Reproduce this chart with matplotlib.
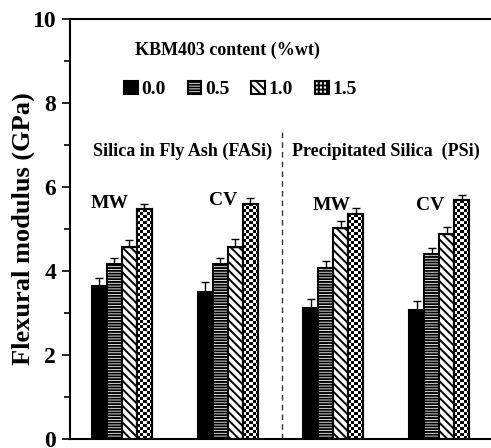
import matplotlib.pyplot as plt
import numpy as np

# Data
groups = ['MW', 'CV', 'MW', 'CV']
contents = ['0.0', '0.5', '1.0', '1.5']
modulus = {
    '0.0': [3.64, 3.50, 3.12, 3.07],
    '0.5': [4.17, 4.17, 4.08, 4.40],
    '1.0': [4.57, 4.58, 5.02, 4.87],
    '1.5': [5.47, 5.60, 5.35, 5.68],
}
errors = {
    '0.0': [0.20, 0.24, 0.21, 0.22],
    '0.5': [0.14, 0.15, 0.15, 0.16],
    '1.0': [0.17, 0.18, 0.18, 0.18],
    '1.5': [0.13, 0.14, 0.14, 0.14],
}
hatches = {'0.0': None, '0.5': '------', '1.0': '\\\\\\\\', '1.5': '++++'}

plt.rcParams['font.family'] = 'Liberation Serif'
plt.rcParams['font.weight'] = 'bold'
plt.rcParams['hatch.linewidth'] = 1.4

fig = plt.figure(figsize=(4.91, 4.48), dpi=100)
ax = fig.add_axes([0.1426, 0.02, 0.8574, 0.9375])

x = np.arange(len(groups))
w = 0.142
handles = []
for i, c in enumerate(contents):
    pos = x + (i - 1.5) * w
    vals = modulus[c]
    err = [np.zeros(len(vals)), errors[c]]
    bars = ax.bar(pos, vals, w, color='black' if c == '0.0' else 'white',
                  edgecolor='black', linewidth=1.5, hatch=hatches[c],
                  yerr=err, error_kw=dict(ecolor='black', elinewidth=1, capsize=3, capthick=1),
                  label=c, zorder=2)
    handles.append(bars)
    if c == '1.5':
        # checkerboard texture
        for b in bars:
            bx, by, bw, bh = b.get_x(), b.get_y(), b.get_width(), b.get_height()
            ncol = 5
            nrow = int(round(bh * 42 / 3.0))
            chk = (np.add.outer(np.arange(nrow), np.arange(ncol)) % 2).astype(float)
            im = ax.imshow(chk, cmap='gray', extent=[bx, bx + bw, by, by + bh],
                           aspect='auto', interpolation='nearest', zorder=2.5)
            im.set_clip_path(b)
            ax.bar(bx + bw / 2, bh, bw, color='none', edgecolor='black', linewidth=1.5, zorder=3)

ax.set_xlim(-0.49, 3.49)
ax.set_ylim(0, 10)
ax.set_yticks(np.arange(0, 11, 2))
ax.set_yticks(np.arange(1, 10, 2), minor=True)
ax.tick_params(axis='y', which='major', labelsize=17, length=6, width=1.2, direction='out', pad=4)
ax.tick_params(axis='y', which='minor', length=4, width=1.2, direction='out')
ax.set_xticks([])
ax.spines['right'].set_visible(False)
for s in ['left', 'top', 'bottom']:
    ax.spines[s].set_linewidth(1.5)
for lbl in ax.get_yticklabels():
    lbl.set_fontweight('bold')

ax.set_ylabel('Flexural modulus (GPa)', fontsize=19, fontweight='bold')
ax.yaxis.set_label_coords(-0.083, 0.5)

# divider between silica types
ax.plot([1.51, 1.51], [0, 7.35], color='#333333', linestyle=(0, (4, 3)), linewidth=1, zorder=1)

ax.text(1.0, 9.25, 'KBM403 content (%wt)', fontsize=13, fontweight='bold', ha='center', va='center')
ax.text(0.57, 6.85, 'Silica in Fly Ash (FASi)', fontsize=13, fontweight='bold', ha='center', va='center')
ax.text(2.5, 6.85, 'Precipitated Silica  (PSi)', fontsize=13, fontweight='bold', ha='center', va='center')

label_y = [5.62, 5.67, 5.57, 5.57]
label_x = [-0.12, 0.96, 1.98, 2.91]
for gx, gy, g in zip(label_x, label_y, groups):
    ax.text(gx, gy, g, fontsize=14, fontweight='bold', ha='center', va='center')

ax.legend(handles, contents, ncol=4, frameon=False, loc='center', bbox_to_anchor=(0.405, 0.832),
          handlelength=0.7, handleheight=0.7, handletextpad=0.2, columnspacing=1.12,
          prop={'weight': 'bold', 'size': 14})

fig.savefig('out.png', dpi=100)
